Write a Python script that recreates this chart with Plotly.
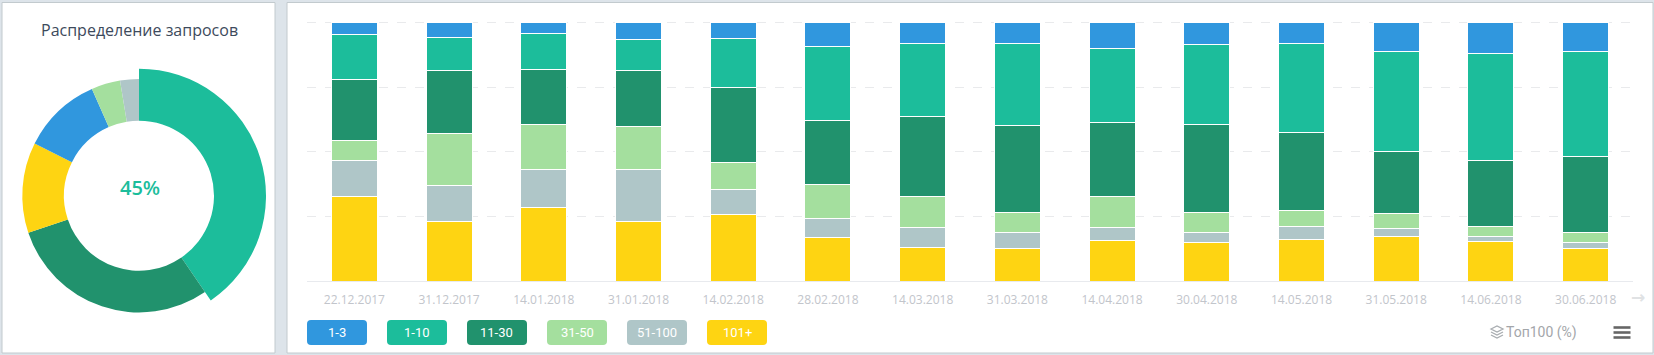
import plotly.graph_objects as go

W, H = 1654, 355

dates = ["22.12.2017", "31.12.2017", "14.01.2018", "31.01.2018", "14.02.2018", "28.02.2018", "14.03.2018",
         "31.03.2018", "14.04.2018", "30.04.2018", "14.05.2018", "31.05.2018", "14.06.2018", "30.06.2018"]

top3 = [4.6, 5.7, 4.6, 6.5, 6.1, 9.2, 8.0, 8.0, 10.0, 8.4, 8.0, 11.1, 11.9, 11.1]
top10 = [17.4, 13.1, 13.9, 12.0, 18.9, 28.6, 28.2, 31.7, 28.6, 30.9, 34.4, 38.6, 41.3, 40.6]
top30 = [23.6, 24.0, 20.9, 21.6, 29.0, 24.7, 30.9, 33.6, 28.6, 34.0, 30.1, 24.0, 25.5, 29.4]
top50 = [7.7, 20.1, 17.4, 16.6, 10.4, 13.1, 12.0, 7.7, 12.0, 7.7, 6.2, 5.8, 3.9, 3.9]
top100 = [13.9, 13.9, 14.7, 20.1, 9.7, 7.3, 7.7, 6.2, 5.0, 3.9, 5.0, 3.1, 1.9, 2.3]
top_rest = [32.8, 23.2, 28.6, 23.2, 25.9, 17.0, 13.1, 12.7, 15.8, 15.1, 16.2, 17.4, 15.5, 12.7]

series_names = ["1-3", "1-10", "11-30", "31-50", "51-100", "101+"]
series_colors = ["#3097de", "#1cbd9b", "#21926d", "#a4df9e", "#afc6c8", "#fed412"]

donut_labels = ["1-10", "11-30", "101+", "1-3", "31-50", "51-100"]
donut_values = [40.4, 29.4, 12.5, 11.0, 4.0, 2.6]
donut_colors = ["#1cbd9b", "#21926d", "#fed412", "#3097de", "#a4df9e", "#afc6c8"]
donut_center = "45%"
donut_title = "Распределение запросов"
unit_label = "Топ100 (%)"

FONT = "Open Sans"


def px(x):
    return x / W


def py(y):
    return 1 - y / H


def pie_domain(cx, cy, r):
    return dict(x=[px(cx - r), px(cx + r)], y=[py(cy + r), py(cy - r)])


def round_rect(x0, y0, x1, y1, r):
    X0, X1, Y0, Y1 = px(x0), px(x1), py(y0), py(y1)
    rx, ry = r / W, r / H
    return (f"M{X0 + rx},{Y0} L{X1 - rx},{Y0} Q{X1},{Y0} {X1},{Y0 - ry} L{X1},{Y1 + ry} Q{X1},{Y1} {X1 - rx},{Y1} "
            f"L{X0 + rx},{Y1} Q{X0},{Y1} {X0},{Y1 + ry} L{X0},{Y0 - ry} Q{X0},{Y0} {X0 + rx},{Y0} Z")


def poly(points):
    return "M" + " L".join(f"{px(a)},{py(b)}" for a, b in points)


def note(text, x, y, family, size, color, weight="normal"):
    return dict(text=text, x=px(x), y=py(y), xref="paper", yref="paper", showarrow=False,
                xanchor="center", yanchor="middle",
                font=dict(family=family, size=size, color=color, weight=weight))


fig = go.Figure()

# stack from bottom to top
stack = list(zip(series_names, series_colors, [top3, top10, top30, top50, top100, top_rest]))[::-1]
for name, color, vals in stack:
    fig.add_trace(go.Bar(x=dates, y=vals, name=name, width=0.485,
                         marker=dict(color=color, line=dict(color="white", width=1))))

# selected slice: larger outer radius
fig.add_trace(go.Pie(labels=donut_labels, values=donut_values, sort=False, direction="clockwise", rotation=0,
                     hole=75 / 127, domain=pie_domain(139, 195.7, 127), textinfo="none", showlegend=False,
                     marker=dict(colors=[donut_colors[0]] + ["rgba(0,0,0,0)"] * 5, line=dict(width=0))))
fig.add_trace(go.Pie(labels=donut_labels, values=donut_values, sort=False, direction="clockwise", rotation=0,
                     hole=75 / 116.7, domain=pie_domain(139, 195.7, 116.7), textinfo="none", showlegend=False,
                     marker=dict(colors=["rgba(0,0,0,0)"] + donut_colors[1:], line=dict(width=0))))

shapes = []
# panels
for x0, x1 in [(2, 275), (287, 1653)]:
    shapes.append(dict(type="rect", xref="paper", yref="paper", x0=px(x0), x1=px(x1), y0=py(353), y1=py(2.5),
                       fillcolor="white", line=dict(color="#c2cace", width=1), layer="below"))

annotations = [
    note(donut_title, 139, 29.5, FONT, 16, "#3d4a5c"),
    note(donut_center, 139.5, 187, FONT, 20, "#1cbd9b", 600),
    note(unit_label, 1541.5, 332.5, "Roboto", 14, "#a3a6aa"),
    note("→", 1638, 296.5, "DejaVu Sans", 17, "#e0e2e4", "bold"),
]

# legend chips
for i, (name, color) in enumerate(zip(series_names, series_colors)):
    x0 = 307 + 80 * i
    shapes.append(dict(type="path", xref="paper", yref="paper", path=round_rect(x0, 320, x0 + 60, 345, 4),
                       fillcolor=color, line=dict(width=0)))
    annotations.append(note(name, x0 + 30, 332.5, "Roboto", 13, "white"))

# hamburger icon
for y in (327.5, 332.5, 337.5):
    shapes.append(dict(type="line", xref="paper", yref="paper", x0=px(1613.5), x1=px(1630.5), y0=py(y), y1=py(y),
                       line=dict(color="#666666", width=2.6)))

# layers icon
shapes.append(dict(type="path", xref="paper", yref="paper",
                   path=poly([(1491, 329), (1497, 326), (1503, 329), (1497, 332)]) + " Z",
                   fillcolor="rgba(0,0,0,0)", line=dict(color="#a9adb1", width=1.3)))
for dy in (3, 6):
    shapes.append(dict(type="path", xref="paper", yref="paper",
                       path=poly([(1491, 329 + dy), (1497, 332 + dy), (1503, 329 + dy)]),
                       fillcolor="rgba(0,0,0,0)", line=dict(color="#a9adb1", width=1.3)))

fig.update_layout(
    width=W, height=H, margin=dict(l=0, r=0, t=0, b=0), paper_bgcolor="#dde4ea", plot_bgcolor="rgba(0,0,0,0)",
    barmode="stack", showlegend=False, shapes=shapes, annotations=annotations,
    xaxis=dict(domain=[px(307), px(1633)], type="category", categoryorder="array", categoryarray=dates,
               showgrid=False, zeroline=False, showline=True, linecolor="#e8eaee", linewidth=1,
               ticks="outside", ticklen=7, tickcolor="rgba(0,0,0,0)",
               tickfont=dict(family=FONT, size=12, color="#c2c5cb")),
    yaxis=dict(domain=[py(281.3), py(19.7)], range=[0, 101], tickvals=[25, 50, 75, 100], showticklabels=False,
               ticks="", showgrid=True, griddash="dash", gridcolor="#e9eaec", gridwidth=1, zeroline=False,
               showline=False),
)

fig.write_html("out.html", config=dict(displayModeBar=False),
               post_script="document.body.style.margin='0';document.body.style.overflow='hidden';")
